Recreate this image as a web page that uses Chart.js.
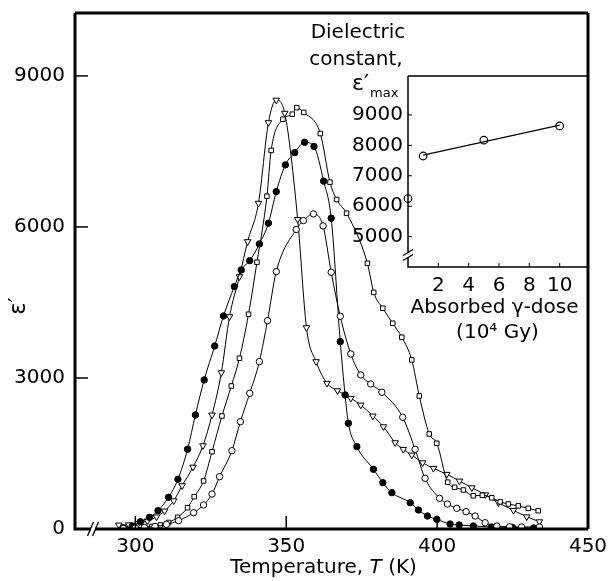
<!DOCTYPE html>
<html>
<head>
<meta charset="utf-8">
<script src="https://cdn.jsdelivr.net/npm/chart.js@4.4.1/dist/chart.umd.min.js"></script>
<style>
  body { margin: 0; background: #fff; }
  #wrap { position: relative; width: 610px; height: 581px; }
  #inset { position: absolute; left: 330px; top: 70px; }
</style>
</head>
<body>
<div id="wrap">
  <canvas id="chart" width="610" height="581"></canvas>
  <canvas id="inset" width="270" height="280"></canvas>
</div>
<script>
// temperature (K) and epsilon', one pair of arrays per curve
var triT = [294.5, 297.8, 301, 304, 307, 309.7, 312.7, 315.5, 319.1, 322.4, 325.4, 328.5, 331.2, 334.5, 337.2, 340.8, 344.1, 346.7, 349.5, 353.8, 356.7, 359.9, 363.5, 367, 371.4, 374.7, 378.7, 382.2, 386.1, 388.8, 391.6, 395.2, 398.8, 403.2, 407.4, 411.5, 416, 420.3, 425.3, 429.7, 433.9];
var triEps = [80, 85, 110, 160, 240, 358, 562, 860, 1230, 1655, 2265, 3106, 4218, 5013, 5709, 6472, 8073, 8520, 8260, 6150, 4000, 3325, 2895, 2748, 2597, 2464, 2245, 2033, 1715, 1583, 1470, 1317, 1206, 1087, 954, 820, 680, 523, 370, 244, 145];

var sqT = [300, 303, 305.5, 308.3, 311, 314, 317.3, 319.5, 322.6, 325.4, 328.7, 331.8, 334.5, 337.5, 340.3, 343.6, 345, 348.9, 352, 353.5, 355.8, 361.3, 364.5, 366.7, 370, 376.9, 379, 382, 385.3, 388.3, 391.6, 394.1, 397.4, 399.9, 403.5, 405.8, 408.7, 412, 415, 418.1, 420.9, 423.6, 426.9, 430.2, 433.5];
var sqEps = [20, 30, 50, 80, 130, 232, 423, 642, 954, 1536, 2245, 2841, 3392, 4266, 5300, 6610, 7520, 8140, 8240, 8370, 8275, 7855, 6890, 6545, 6273, 5279, 4700, 4385, 4087, 3809, 3358, 2643, 1888, 1703, 930, 830, 775, 660, 670, 620, 540, 497, 460, 411, 364];

var dotT = [296, 299, 301.7, 304.7, 307.5, 311, 314.1, 317.3, 319.9, 322.8, 326.3, 329.2, 332.8, 335.1, 337.9, 341.1, 344.1, 346.7, 349.7, 352.8, 356.1, 359.2, 362.4, 364.9, 367.9, 369.5, 370.6, 373.4, 378.9, 382, 385, 391.1, 393.8, 396.8, 399.9, 404.3, 407.3, 412, 418, 425, 432];
var dotEps = [20, 60, 145, 232, 364, 630, 987, 1583, 2265, 2961, 3636, 4232, 4815, 5146, 5331, 5663, 6074, 6702, 7233, 7477, 7683, 7600, 6910, 6174, 3722, 2663, 2100, 1635, 1186, 920, 721, 523, 378, 258, 192, 99, 80, 60, 40, 30, 20];

var ringT = [296, 300, 303, 306.5, 310.3, 314.3, 319.3, 322.6, 325.4, 327.9, 332, 334.8, 337.9, 341.1, 343.8, 346.7, 353.3, 355.7, 359, 362.2, 364.9, 367.9, 371.4, 374.7, 378, 381.7, 388.6, 392.7, 396, 400.8, 403.4, 406.5, 409.6, 412.6, 415.9, 419.8, 424, 428, 433.9];
var ringEps = [10, 20, 30, 50, 93, 165, 324, 477, 695, 1039, 1556, 2132, 2696, 3325, 4139, 5113, 5950, 6126, 6259, 6021, 5100, 4225, 3477, 3060, 2881, 2716, 2219, 1583, 1007, 610, 497, 411, 344, 258, 125, 60, 45, 40, 40];

var tempTicks = [300, 350, 400, 450];
var epsTicks = [0, 3000, 6000, 9000];

// inset: epsilon'max against absorbed dose
var dose = [0, 1, 5, 10];
var epsMax = [6250, 7650, 8170, 8640];
var doseTicks = [2, 4, 6, 8, 10];
var epsMaxTicks = [5000, 6000, 7000, 8000, 9000];

var FONT = "'DejaVu Sans', sans-serif";

function pts(xs, ys) {
    return xs.map(function(x, i) { return {x: x, y: ys[i]}; });
}

function curve(xs, ys, style, fill, rot) {
    return {
        data: pts(xs, ys),
        showLine: true,
        borderColor: '#000',
        borderWidth: 1,
        cubicInterpolationMode: 'monotone',
        pointStyle: style,
        rotation: rot || 0,
        pointRadius: style == 'triangle' ? 3.8 : 3.2,
        pointBackgroundColor: fill,
        pointBorderColor: '#000',
        pointBorderWidth: 1
    };
}

// least squares line through the irradiated samples (dose > 0)
function fitLine(xs, ys) {
    var x = [], y = [];
    xs.forEach(function(v, i) { if (v > 0) { x.push(v); y.push(ys[i]); } });
    var mx = x.reduce(function(a, b) { return a + b; }, 0) / x.length;
    var my = y.reduce(function(a, b) { return a + b; }, 0) / y.length;
    var sxy = 0, sxx = 0;
    x.forEach(function(v, i) { sxy += (v - mx) * (y[i] - my); sxx += (v - mx) * (v - mx); });
    var k = sxy / sxx;
    var x0 = x[0], x1 = x[x.length - 1];
    return [{x: x0, y: my + k * (x0 - mx)}, {x: x1, y: my + k * (x1 - mx)}];
}

// fixed ticks, plain numbers, no extra padding from edge labels
function fixedAxis(list, size, horizontal) {
    return {
        afterBuildTicks: function(s) { s.ticks = list.map(function(v) { return {value: v}; }); },
        afterFit: function(s) {
            if (horizontal) s.height = size; else s.width = size;
            s.paddingTop = 0; s.paddingBottom = 0; s.paddingLeft = 0; s.paddingRight = 0;
        }
    };
}

// frame, inward tick marks and axis breaks
var decor = {
    id: 'decor',
    afterDraw: function(chart, args, o) {
        var ctx = chart.ctx, a = chart.chartArea;
        var sx = chart.scales.x, sy = chart.scales.y;
        ctx.save();
        ctx.strokeStyle = '#000';
        ctx.lineWidth = o.tickWidth;
        sx.ticks.forEach(function(t) {
            var px = sx.getPixelForValue(t.value);
            if (px > a.right - 3) return;
            ctx.beginPath(); ctx.moveTo(px, a.bottom); ctx.lineTo(px, a.bottom - o.tickLen); ctx.stroke();
        });
        sy.ticks.forEach(function(t) {
            var py = sy.getPixelForValue(t.value);
            if (py > a.bottom - 3) return;
            ctx.beginPath(); ctx.moveTo(a.left, py); ctx.lineTo(a.left + o.tickLen, py); ctx.stroke();
        });
        ctx.lineWidth = o.frameWidth;
        ctx.beginPath();
        if (o.top) { ctx.moveTo(a.left, a.top); ctx.lineTo(a.right, a.top); }
        if (o.right) { ctx.moveTo(a.right, a.top); ctx.lineTo(a.right, a.bottom); }
        ctx.moveTo(a.left, a.top); ctx.lineTo(a.left, a.bottom); ctx.lineTo(a.right, a.bottom);
        ctx.stroke();
        // the "//" break
        ctx.lineWidth = 1.3;
        if (o.breakX) {
            var bx = a.left + o.breakX, by = a.bottom;
            ctx.fillStyle = '#fff';
            ctx.fillRect(bx - 2, by - 3, 4, 6);
            [-2.5, 2.5].forEach(function(d) {
                ctx.beginPath(); ctx.moveTo(bx + d - 3, by + 7); ctx.lineTo(bx + d + 3, by - 7); ctx.stroke();
            });
        }
        if (o.breakY) {
            var cx = a.left, cy = a.bottom - o.breakY;
            ctx.fillStyle = '#fff';
            ctx.fillRect(cx - 2, cy - 2, 4, 4);
            [-2.5, 2.5].forEach(function(d) {
                ctx.beginPath(); ctx.moveTo(cx - 5, cy + d + 3); ctx.lineTo(cx + 5, cy + d - 3); ctx.stroke();
            });
        }
        ctx.restore();
    }
};

// free text of the main figure
var labels = {
    id: 'labels',
    afterDraw: function(chart) {
        var ctx = chart.ctx, a = chart.chartArea;
        ctx.save();
        ctx.fillStyle = '#000';
        ctx.textBaseline = 'middle';
        ctx.font = '20px ' + FONT;
        // x title with italic T
        var p1 = 'Temperature, ', p2 = 'T', p3 = ' (K)';
        var w1 = ctx.measureText(p1).width, w3 = ctx.measureText(p3).width;
        ctx.font = 'italic 20px ' + FONT;
        var w2 = ctx.measureText(p2).width;
        var x = (a.left + a.right) / 2 - 8 - (w1 + w2 + w3) / 2, y = a.bottom + 39;
        ctx.textAlign = 'left';
        ctx.font = '20px ' + FONT;
        ctx.fillText(p1, x, y);
        ctx.font = 'italic 20px ' + FONT;
        ctx.fillText(p2, x + w1, y);
        ctx.font = '20px ' + FONT;
        ctx.fillText(p3, x + w1 + w2, y);
        // y title
        ctx.save();
        ctx.translate(19, (a.top + a.bottom) / 2 + 35);
        ctx.rotate(-Math.PI / 2);
        ctx.textAlign = 'center';
        ctx.font = '23px ' + FONT;
        ctx.fillText('\u03b5\u2032', 0, 0);
        ctx.restore();
        // inset heading
        ctx.font = '20px ' + FONT;
        ctx.textAlign = 'center';
        ctx.fillText('Dielectric', 358, 33);
        ctx.fillText('constant,', 356, 60);
        ctx.textAlign = 'left';
        ctx.font = '22px ' + FONT;
        ctx.fillText('\u03b5\u2032', 352, 84);
        ctx.font = '13px ' + FONT;
        ctx.fillText('max', 370, 94);
        ctx.restore();
    }
};

var insetLabels = {
    id: 'insetLabels',
    afterDraw: function(chart) {
        var ctx = chart.ctx, a = chart.chartArea;
        var cx = (a.left + a.right) / 2;
        ctx.save();
        ctx.fillStyle = '#000';
        ctx.textBaseline = 'middle';
        ctx.textAlign = 'center';
        ctx.font = '20px ' + FONT;
        ctx.fillText('Absorbed \u03b3-dose', cx - 3, a.bottom + 41);
        ctx.fillText('(10\u2074 Gy)', cx, a.bottom + 66);
        ctx.restore();
    }
};

var tickFont = {family: FONT, size: 20};
function plain(v) { return String(v); }

new Chart(document.getElementById('chart').getContext('2d'), {
    type: 'scatter',
    data: {
        datasets: [
            curve(ringT, ringEps, 'circle', '#fff'),
            curve(dotT, dotEps, 'circle', '#000'),
            curve(sqT, sqEps, 'rect', '#fff'),
            curve(triT, triEps, 'triangle', '#fff', 180)
        ]
    },
    options: {
        responsive: false,
        animation: false,
        layout: {padding: {top: 13, right: 22, left: 0, bottom: 0}},
        plugins: {
            legend: {display: false},
            tooltip: {enabled: false},
            decor: {tickLen: 13, tickWidth: 1.5, frameWidth: 3, top: true, right: true, breakX: 18}
        },
        scales: {
            x: Object.assign({
                type: 'linear', min: 280, max: 450,
                grid: {display: false, drawTicks: false},
                border: {display: false},
                ticks: {font: tickFont, color: '#000', padding: 6, maxRotation: 0, callback: plain}
            }, fixedAxis(tempTicks, 52, true)),
            y: Object.assign({
                min: 0, max: 10250,
                grid: {display: false, drawTicks: false},
                border: {display: false},
                ticks: {font: tickFont, color: '#000', padding: 10, callback: plain}
            }, fixedAxis(epsTicks, 75, false))
        }
    },
    plugins: [decor, labels]
});

new Chart(document.getElementById('inset').getContext('2d'), {
    type: 'scatter',
    data: {
        datasets: [
            {
                data: fitLine(dose, epsMax), showLine: true, borderColor: '#000',
                borderWidth: 1.2, pointRadius: 0
            },
            {
                data: pts(dose, epsMax), clip: false, pointStyle: 'circle', pointRadius: 3.8,
                pointBackgroundColor: '#fff', pointBorderColor: '#000', pointBorderWidth: 1.2
            }
        ]
    },
    options: {
        responsive: false,
        animation: false,
        layout: {padding: {top: 6, right: 13, left: 0, bottom: 0}},
        plugins: {
            legend: {display: false},
            tooltip: {enabled: false},
            decor: {tickLen: 4, tickWidth: 1, frameWidth: 1.5, top: true, right: false, breakY: 12}
        },
        scales: {
            x: Object.assign({
                type: 'linear', min: 0, max: 11.8,
                grid: {display: false, drawTicks: false},
                border: {display: false},
                ticks: {font: tickFont, color: '#000', padding: 7, maxRotation: 0, callback: plain}
            }, fixedAxis(doseTicks, 83, true)),
            y: Object.assign({
                min: 4000, max: 10280,
                grid: {display: false, drawTicks: false},
                border: {display: false},
                ticks: {font: tickFont, color: '#000', padding: 5, callback: plain}
            }, fixedAxis(epsMaxTicks, 78, false))
        }
    },
    plugins: [decor, insetLabels]
});
</script>
</body>
</html>
